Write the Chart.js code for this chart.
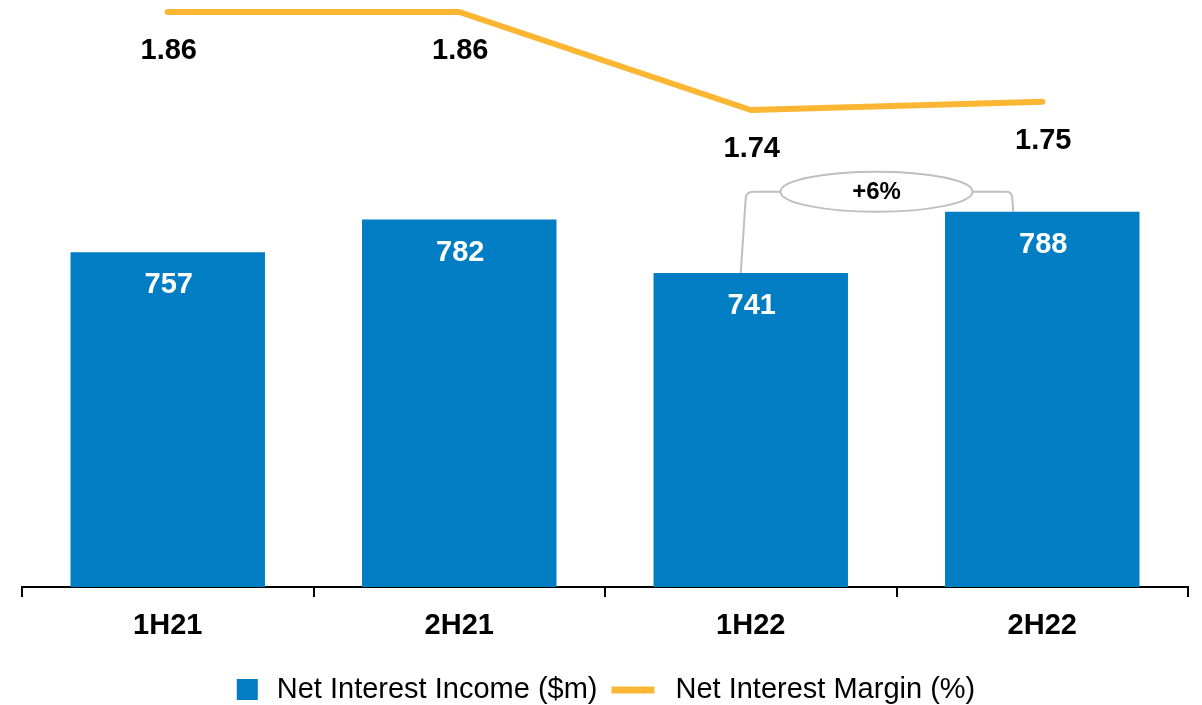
<!DOCTYPE html>
<html>
<head>
<meta charset="utf-8">
<title>Net Interest Income and Margin</title>
<script src="https://cdn.jsdelivr.net/npm/chart.js@4.4.0/dist/chart.umd.min.js"></script>
<style>
  html, body { margin: 0; padding: 0; background: #fff; }
  #wrap { width: 1202px; height: 705px; position: relative; }
</style>
</head>
<body>
<div id="wrap"><canvas id="nimChart"></canvas></div>
<script>
// ========== DATA ==========
const periods = ["1H21", "2H21", "1H22", "2H22"];
const netInterestIncome = [757, 782, 741, 788];
const netInterestMargin = [1.86, 1.86, 1.74, 1.75];
const seriesNames = ["Net Interest Income ($m)", "Net Interest Margin (%)"];
const growthText = "+6%";
const growthFrom = 2;
const growthTo = 3;

// ========== STYLE ==========
const FONT = "'Liberation Sans', Arial, Helvetica, sans-serif";
const BLUE = "#007dc3";
const ORANGE = "#fbb733";
const GREY = "#bfbfbf";

// ========== PLUGINS ==========
const valueLabels = {
  id: "valueLabels",
  afterDatasetsDraw(chart) {
    const ctx = chart.ctx;
    ctx.save();
    ctx.textAlign = "center";
    ctx.textBaseline = "middle";
    ctx.font = `bold 29px ${FONT}`;

    ctx.fillStyle = "#fff";
    chart.getDatasetMeta(0).data.forEach((bar, i) => {
      ctx.fillText(String(netInterestIncome[i]), bar.x + 1, bar.y + 33);
    });

    ctx.fillStyle = "#000";
    chart.getDatasetMeta(1).data.forEach((pt, i) => {
      ctx.fillText(netInterestMargin[i].toFixed(2), pt.x + 1, pt.y + 39);
    });
    ctx.restore();
  },
};

const growthBracket = {
  id: "growthBracket",
  afterDatasetsDraw(chart) {
    const bars = chart.getDatasetMeta(0).data;
    const a = bars[growthFrom];
    const b = bars[growthTo];
    const ctx = chart.ctx;
    const rx = 96;
    const ry = 20;
    const cx = (a.x + b.x) / 2 - 20;
    const cy = Math.min(a.y, b.y) - ry;

    ctx.save();
    ctx.strokeStyle = GREY;
    ctx.lineWidth = 2;

    // left leg
    ctx.beginPath();
    ctx.moveTo(a.x - 10, a.y);
    ctx.lineTo(a.x - 5, cy + 6);
    ctx.quadraticCurveTo(a.x - 4, cy, a.x + 2, cy);
    ctx.lineTo(cx - rx, cy);
    ctx.stroke();

    // right leg
    ctx.beginPath();
    ctx.moveTo(cx + rx, cy);
    ctx.lineTo(b.x - 35, cy);
    ctx.quadraticCurveTo(b.x - 31, cy, b.x - 30, cy + 6);
    ctx.lineTo(b.x - 29, b.y);
    ctx.stroke();

    // bubble
    ctx.beginPath();
    ctx.ellipse(cx, cy, rx, ry, 0, 0, Math.PI * 2);
    ctx.fillStyle = "#fff";
    ctx.fill();
    ctx.stroke();

    ctx.fillStyle = "#000";
    ctx.font = `bold 24px ${FONT}`;
    ctx.textAlign = "center";
    ctx.textBaseline = "middle";
    ctx.fillText(growthText, cx, cy + 1);
    ctx.restore();
  },
};

const bottomLegend = {
  id: "bottomLegend",
  afterDraw(chart) {
    const ctx = chart.ctx;
    const y = 690;
    ctx.save();
    ctx.font = `29px ${FONT}`;
    ctx.textBaseline = "middle";
    ctx.fillStyle = "#000";

    const w0 = ctx.measureText(seriesNames[0]).width;
    const w1 = ctx.measureText(seriesNames[1]).width;
    const total = 21 + 19 + w0 + 14 + 43 + 21 + w1;
    const area = chart.chartArea;
    let x = (area.left + area.right) / 2 + 1 - total / 2;

    ctx.fillStyle = BLUE;
    ctx.fillRect(x, y - 11, 21, 21);
    x += 21 + 19;
    ctx.fillStyle = "#000";
    ctx.fillText(seriesNames[0], x, y);
    x += w0 + 14;

    ctx.strokeStyle = ORANGE;
    ctx.lineWidth = 7;
    ctx.beginPath();
    ctx.moveTo(x, y);
    ctx.lineTo(x + 43, y);
    ctx.stroke();
    x += 43 + 21;
    ctx.fillText(seriesNames[1], x, y);
    ctx.restore();
  },
};

// ========== CHART ==========
new Chart(document.getElementById("nimChart"), {
  type: "bar",
  data: {
    labels: periods,
    datasets: [
      {
        type: "bar",
        label: seriesNames[0],
        data: netInterestIncome,
        backgroundColor: BLUE,
        yAxisID: "yIncome",
        barPercentage: 0.667,
        categoryPercentage: 1,
        order: 2,
      },
      {
        type: "line",
        label: seriesNames[1],
        data: netInterestMargin,
        borderColor: ORANGE,
        borderWidth: 6,
        borderCapStyle: "round",
        borderJoinStyle: "round",
        pointRadius: 0,
        tension: 0,
        yAxisID: "yMargin",
        clip: false,
        order: 1,
      },
    ],
  },
  options: {
    responsive: true,
    maintainAspectRatio: false,
    animation: false,
    layout: { padding: { top: 0, bottom: 49.2, left: 22, right: 14 } },
    plugins: {
      legend: { display: false },
      tooltip: { enabled: false },
    },
    scales: {
      x: {
        grid: {
          offset: true,
          drawOnChartArea: false,
          drawTicks: true,
          tickLength: 10,
          color: "#000",
          lineWidth: 2,
        },
        border: { display: true, color: "#000", width: 2 },
        ticks: {
          color: "#000",
          padding: 12,
          font: { family: FONT, size: 29, weight: "bold" },
        },
      },
      yIncome: { display: false, min: 500, max: 950.5 },
      yMargin: { display: false, min: 1.1559, max: 1.8747 },
    },
  },
  plugins: [valueLabels, growthBracket, bottomLegend],
});
</script>
</body>
</html>
